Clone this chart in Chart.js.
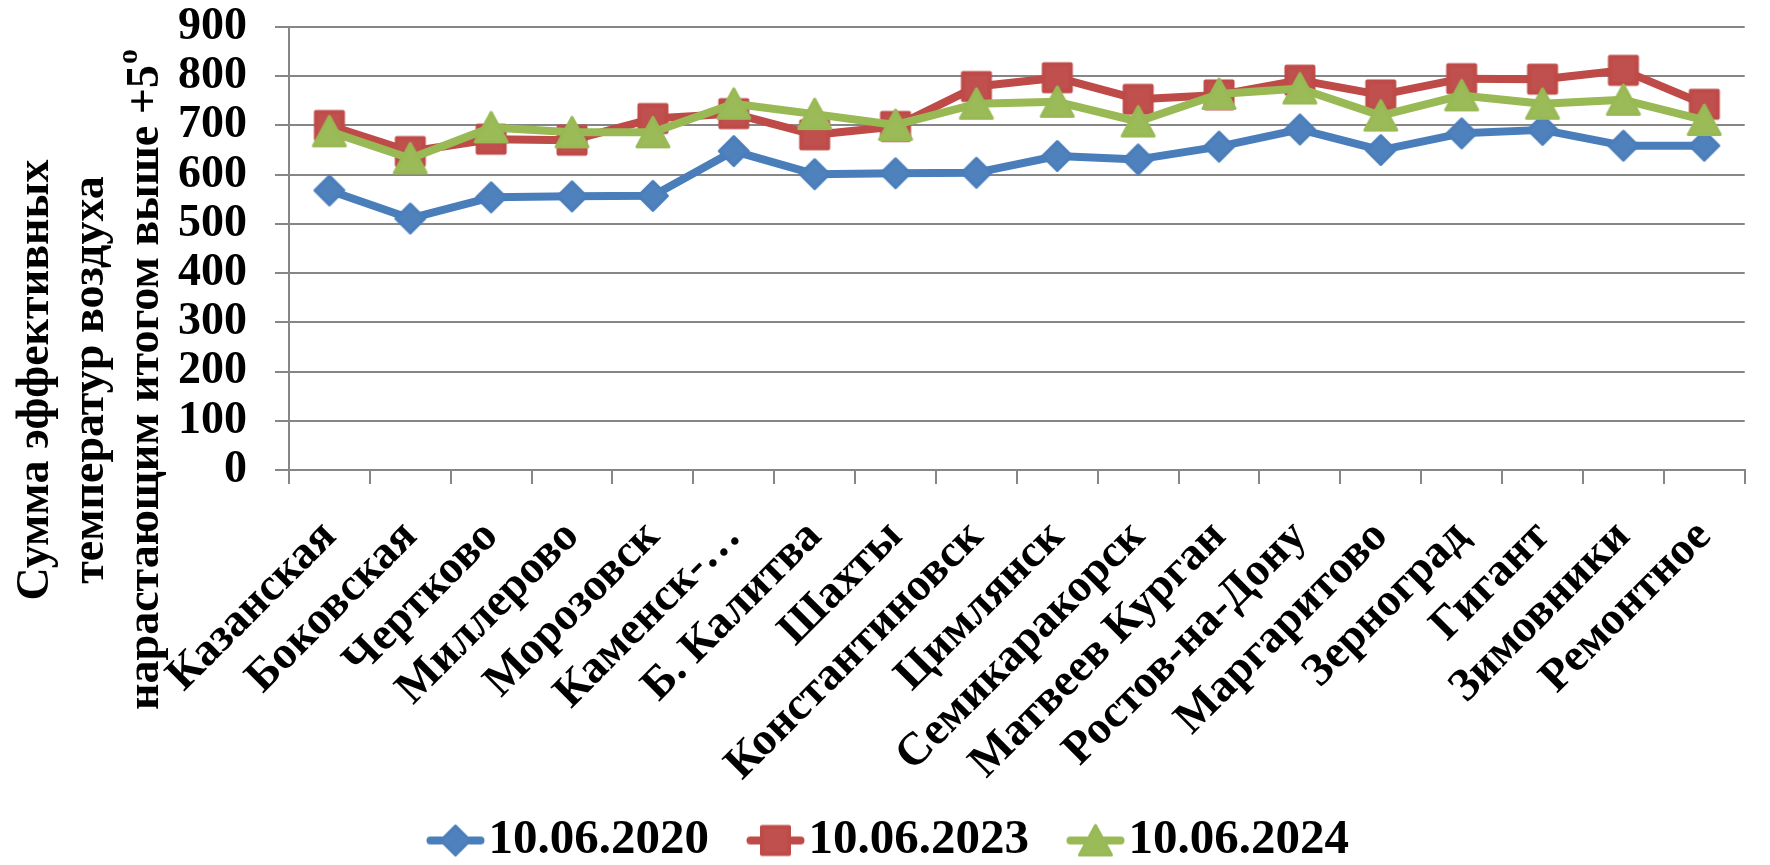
<!DOCTYPE html>
<html>
<head>
<meta charset="utf-8">
<script src="https://cdn.jsdelivr.net/npm/chart.js@4.4.1/dist/chart.umd.min.js"></script>
<style>
  html, body { margin: 0; padding: 0; background: #ffffff; }
  canvas { display: block; }
</style>
</head>
<body>
<canvas id="chart" width="1770" height="865"></canvas>
<script>
// Метеостанции Ростовской области
const stations = ['Казанская', 'Боковская', 'Чертково', 'Миллерово', 'Морозовск', 'Каменск-…',
  'Б. Калитва', 'Шахты', 'Константиновск', 'Цимлянск', 'Семикаракорск', 'Матвеев Курган',
  'Ростов-на-Дону', 'Маргаритово', 'Зерноград', 'Гигант', 'Зимовники', 'Ремонтное'];

// Сумма эффективных температур выше +5° на дату
const sum2020 = [568, 511, 554, 556, 557, 648, 601, 603, 604, 638, 631, 657, 692, 650, 684, 691, 659, 659];
const sum2023 = [700, 647, 672, 670, 714, 724, 681, 698, 779, 797, 753, 762, 792, 762, 795, 794, 812, 743];
const sum2024 = [688, 633, 696, 686, 686, 744, 723, 701, 744, 748, 708, 764, 775, 720, 761, 744, 752, 711];

const seriesNames = ['10.06.2020', '10.06.2023', '10.06.2024'];
const yTickValues = [0, 100, 200, 300, 400, 500, 600, 700, 800, 900];
const yTitleLines = ['Сумма эффективных', 'температур воздуха', 'нарастающим итогом выше +5'];
const yTitleSup = 'о';

const FONT = '"Liberation Serif", "Times New Roman", serif';
const GRID = '#868686';

// Маркер серии (ромб, квадрат, треугольник)
function drawShape(ctx, shape, cx, cy) {
  ctx.beginPath();
  if (shape === 'diamond') {
    const r = 14.5;
    ctx.moveTo(cx, cy - r); ctx.lineTo(cx + r, cy); ctx.lineTo(cx, cy + r); ctx.lineTo(cx - r, cy);
  } else if (shape === 'square') {
    const h = 13.5;
    ctx.rect(cx - h, cy - h, 2 * h, 2 * h);
  } else {
    ctx.moveTo(cx, cy - 15); ctx.lineTo(cx + 16, cy + 14.5); ctx.lineTo(cx - 16, cy + 14.5);
  }
  ctx.closePath();
}
// Картинка маркера; для легенды — с отрезком линии, сдвинутым на dx от центра
function markerCanvas(shape, fill, stroke, lineColor, width, dx) {
  const w = width || 40, h = 40, cx = w / 2 + (dx || 0);
  const c = document.createElement('canvas');
  c.width = w; c.height = h;
  const ctx = c.getContext('2d');
  ctx.lineJoin = 'round';
  ctx.lineCap = 'round';
  if (lineColor) {
    ctx.strokeStyle = lineColor; ctx.lineWidth = 8;
    ctx.beginPath(); ctx.moveTo(cx - 25, h / 2); ctx.lineTo(cx + 25, h / 2); ctx.stroke();
  }
  drawShape(ctx, shape, cx, h / 2);
  ctx.fillStyle = fill; ctx.fill();
  ctx.lineWidth = shape === 'square' ? 4 : 3;
  ctx.strokeStyle = stroke; ctx.stroke();
  return c;
}

const styles = [
  { shape: 'diamond', line: '#4A7EBB', fill: '#4F81BD' },
  { shape: 'square',  line: '#BE4B48', fill: '#C0504D' },
  { shape: 'triangle', line: '#98B954', fill: '#9BBB59' }
];
const LEGEND_FONT = 49;
const LEGEND_BOX = 44;
const pointImages = styles.map(s => markerCanvas(s.shape, s.fill, s.line));
const legendImages = styles.map(s =>
  markerCanvas(s.shape, s.fill, s.line, s.line, 90, LEGEND_BOX / 2 + LEGEND_FONT / 2 - 33));

const seriesData = [sum2020, sum2023, sum2024];
const datasets = seriesData.map((d, i) => ({
  label: seriesNames[i],
  data: d,
  borderColor: styles[i].line,
  backgroundColor: styles[i].fill,
  borderWidth: 8,
  borderJoinStyle: 'round',
  borderCapStyle: 'round',
  tension: 0,
  fill: false,
  pointStyle: pointImages[i],
  pointRadius: 16,
  order: 3 - i
}));

// Подпись оси Y в три строки с надстрочным «о»
const yTitlePlugin = {
  id: 'yTitle',
  afterLayout(chart) {
    // подписи категорий не обрезаются границей легенды
    chart.scales.x.bottom = chart.height;
  },
  afterDraw(chart) {
    const ctx = chart.ctx;
    const mainFont = 'bold 46px ' + FONT;
    const supFont = 'bold 30px ' + FONT;
    const baselines = [48, 103, 158];
    const cy = 380;
    ctx.save();
    ctx.fillStyle = '#000000';
    ctx.textBaseline = 'alphabetic';
    yTitleLines.forEach((t, i) => {
      ctx.save();
      ctx.translate(baselines[i], cy);
      ctx.rotate(-Math.PI / 2);
      ctx.font = mainFont;
      if (i === yTitleLines.length - 1) {
        const wMain = ctx.measureText(t).width;
        ctx.font = supFont;
        const wSup = ctx.measureText(yTitleSup).width;
        const start = -(wMain + wSup) / 2;
        ctx.textAlign = 'left';
        ctx.font = mainFont;
        ctx.fillText(t, start, 0);
        ctx.font = supFont;
        ctx.fillText(yTitleSup, start + wMain + 1, -21);
      } else {
        ctx.textAlign = 'center';
        ctx.fillText(t, 0, 0);
      }
      ctx.restore();
    });
    ctx.restore();
  }
};

const tickFont = { family: FONT, size: 46, weight: 'bold' };

new Chart(document.getElementById('chart'), {
  type: 'line',
  data: { labels: stations, datasets },
  plugins: [yTitlePlugin],
  options: {
    responsive: false,
    animation: false,
    devicePixelRatio: 1,
    layout: { padding: { top: 0, right: 1, bottom: 0, left: 0 } },
    plugins: {
      tooltip: { enabled: false },
      legend: {
        position: 'bottom',
        maxHeight: 80,
        labels: {
          usePointStyle: true,
          pointStyleWidth: LEGEND_BOX,
          padding: 31,
          color: '#000000',
          font: { family: FONT, size: LEGEND_FONT, weight: 'bold' },
          sort: (a, b) => a.datasetIndex - b.datasetIndex,
          generateLabels(chart) {
            const items = Chart.defaults.plugins.legend.labels.generateLabels(chart);
            items.forEach(it => { it.pointStyle = legendImages[it.datasetIndex]; });
            return items;
          }
        }
      }
    },
    scales: {
      x: {
        type: 'category',
        offset: true,
        grid: { offset: true, drawOnChartArea: false, drawTicks: true, tickLength: 14, color: GRID, lineWidth: 2 },
        border: { display: true, color: GRID, width: 2 },
        ticks: { autoSkip: false, minRotation: 45, maxRotation: 45, padding: 26, color: '#000000', font: tickFont },
        afterFit(scale) { scale.height = 315; }
      },
      y: {
        min: 0,
        max: 900,
        afterBuildTicks(scale) { scale.ticks = yTickValues.map(v => ({ value: v })); },
        grid: { color: GRID, lineWidth: 2, drawTicks: true, tickLength: 14 },
        border: { display: true, color: GRID, width: 2 },
        ticks: { autoSkip: false, padding: 28, color: '#000000', font: tickFont },
        afterFit(scale) {
          scale.width = 289;
          scale.paddingTop = 27;
          scale.paddingBottom = 0;
        }
      }
    }
  }
});
</script>
</body>
</html>
